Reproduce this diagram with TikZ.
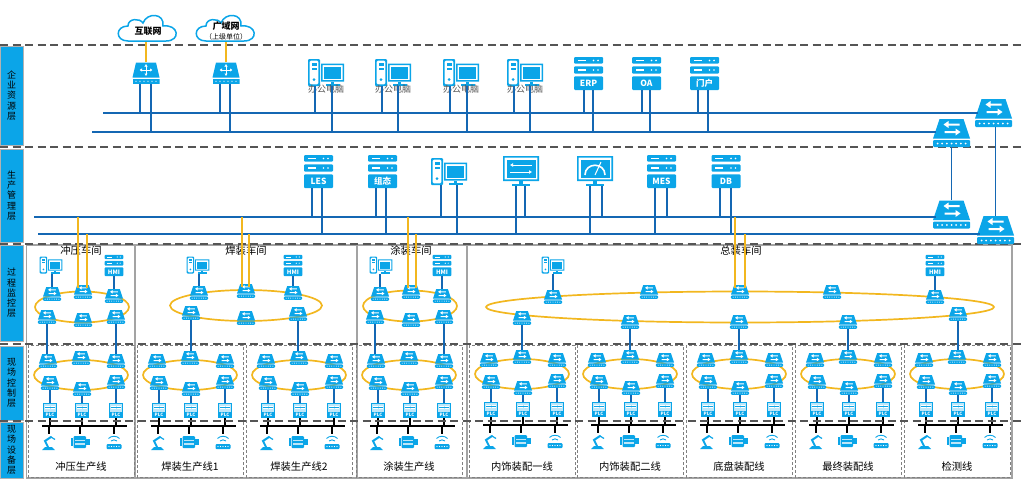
\documentclass[tikz,border=0pt]{standalone}
\usepackage{fontspec}
\setmainfont{Noto Sans CJK SC}
\usepackage{tikz}
\usetikzlibrary{arrows.meta,calc,positioning}
\definecolor{iconblue}{HTML}{0BA5E8}
\definecolor{iconlight}{HTML}{BDE6F8}
\definecolor{linkblue}{HTML}{1467B3}
\definecolor{ringyellow}{HTML}{F2B71F}
\definecolor{dashgray}{HTML}{555555}
\definecolor{panelgray}{HTML}{A3A3A3}
\newcommand{\fsz}[2]{\fontsize{#1}{#2}\selectfont}
\tikzset{
  swicon/.pic={
    \fill[iconblue] (-12,-14) -- (12,-14) -- (18.5,5.5) -- (-18.5,5.5) -- cycle;
    \fill[iconblue,rounded corners=1pt] (-18.5,7) rectangle (18.5,14);
    \fill[white] (-8,-8.5) -- (-3,-12) -- (-3,-9.5) -- (8,-9.5) -- (8,-7.5) -- (-3,-7.5) -- (-3,-5) -- cycle;
    \fill[white] (9,-1) -- (4,-4.5) -- (4,-2) -- (-7,-2) -- (-7,0) -- (4,0) -- (4,2.5) -- cycle;
    \foreach \d in {-14,-9.33,-4.67,0,4.67,9.33,14} \fill[white] (\d,10.5) circle (1);
  },
  rticon/.pic={
    \fill[iconblue] (-10,-10.5) -- (10,-10.5) -- (13.5,4.5) -- (-13.5,4.5) -- cycle;
    \fill[iconblue] (-13.5,6) rectangle (13.5,10.5);
    \draw[white,line width=1pt,{Latex[length=2.5pt,width=3.5pt]}-{Latex[length=2.5pt,width=3.5pt]}] (-6.5,-3) -- (6.5,-3);
    \draw[white,line width=1pt,{Latex[length=2.5pt,width=3.5pt]}-{Latex[length=2.5pt,width=3.5pt]}] (0,-9) -- (0,3);
    \foreach \d in {-10,-6,-2,2,6,10} \fill[white] (\d,8.2) circle (.6);
  },
  srvicon/.pic={
    \fill[iconblue,rounded corners=1pt] (-14.5,-16.5) rectangle (14.5,-9.8);
    \fill[iconblue,rounded corners=1pt] (-14.5,-7.2) rectangle (14.5,.2);
    \fill[iconblue,rounded corners=1pt] (-14.5,2.8) rectangle (14.5,16.5);
    \foreach \y in {-13.1,-3.5}{
      \fill[white] (-11,\y-.6) rectangle (-3,\y+.6);
      \fill[white] (5,\y) circle (.9);
      \fill[white] (9.5,\y) circle (.9);
    }
  },
  pcicon/.pic={
    \fill[iconblue,even odd rule,rounded corners=1pt] (-18,-13.5) rectangle (-6,13.5) (-16.3,-11.8) rectangle (-7.7,11.8);
    \fill[iconblue] (-14.5,-9.5) rectangle (-9.5,-7);
    \fill[iconblue] (-14.5,-5) rectangle (-9.5,-2.5);
    \fill[iconblue] (-12,7) circle (1.5);
    \fill[iconblue,even odd rule] (-5,-9) rectangle (18,9) (-3.5,-7.5) rectangle (16.5,7.5);
    \fill[iconblue] (-2,-5.5) rectangle (15,6);
    \fill[iconblue] (5,9) rectangle (8,12);
    \fill[iconblue] (-.5,11.8) rectangle (13.5,13.5);
  },
  scrframe/.pic={
    \fill[iconblue,even odd rule] (-18,-15) rectangle (18,10) (-16.3,-13.3) rectangle (16.3,8.3);
    \fill[iconblue] (-14.5,-11.5) rectangle (14.5,6.5);
    \fill[iconblue] (-2,10) rectangle (2,13);
    \fill[iconblue] (-9,13) rectangle (9,15);
  },
  cloudicon/.pic={
    \draw[iconblue,fill=white,line width=1.5pt] (-20,10) .. controls (-33,10) and (-33,-5) .. (-20,-5)
      .. controls (-20,-13) and (-8,-13) .. (-5,-8) .. controls (-1,-19) and (17,-18) .. (15,-5)
      .. controls (31,-7) and (33,10) .. (18,10) -- cycle;
  },
  robicon/.pic={
    \fill[iconblue] (-7,8) -- (6,8) -- (3,5) -- (-4,5) -- cycle;
    \draw[iconblue,line width=2pt,line cap=round] (-1,5) -- (-4,-1) -- (2,-5);
    \draw[iconblue,line width=1.2pt] (2,-5) -- (6,-2.5);
  },
  moticon/.pic={
    \fill[iconblue,rounded corners=1pt] (-6.5,-6) rectangle (6,6);
    \fill[iconblue] (-9.5,-4) rectangle (-7.5,4);
    \fill[iconblue] (6,-3) rectangle (9.5,3);
    \fill[iconlight] (-5,-2.5) rectangle (4.5,-1);
    \fill[iconlight] (-5,1) rectangle (4.5,2.5);
  },
  wficon/.pic={
    \fill[iconblue,rounded corners=1pt] (-7.5,2) rectangle (7.5,7);
    \foreach \d in {-5,-2.5,0,2.5,5} \fill[white] (\d,4.5) circle (.6);
    \draw[iconblue,line width=.9pt] (-3,-1) .. controls (-1.5,-2.5) and (1.5,-2.5) .. (3,-1);
    \draw[iconblue,line width=.9pt] (-5.5,-3.5) .. controls (-2.5,-6.5) and (2.5,-6.5) .. (5.5,-3.5);
  },
  plcicon/.pic={
    \fill[iconblue] (-7,-7.5) rectangle (7,7.5);
    \fill[iconlight] (-6,-6.5) rectangle (6,1.5);
    \fill[white] (-5,-5) rectangle (-.5,-2);
    \fill[white] (.5,-5) rectangle (5,-2);
    \fill[iconblue] (-5,-3.8) rectangle (5,-3.1);
  }
}
\begin{document}
\begin{tikzpicture}[x=1pt,y=-1pt,>=Latex,
  layerline/.style={draw=dashgray,line width=1.3pt,dash pattern=on 8pt off 4.5pt},
  panelbox/.style={draw=panelgray,line width=1.1pt},
  cellbox/.style={draw=gray,line width=.9pt,dash pattern=on 3pt off 2pt},
  bandbox/.style={draw=gray!60,line width=.4pt,fill=iconblue,minimum width=23pt,inner sep=0pt,align=center,font=\fsz{9}{10.2}},
  link/.style={draw=linkblue,line width=1.9pt},
  uplink/.style={draw=ringyellow,line width=2pt},
  ringline/.style={draw=ringyellow,line width=1.7pt},
  fieldbus/.style={draw=black,line width=2.1pt},
  cloudtext/.style={inner sep=0pt,minimum width=54pt,minimum height=21pt,align=center,font=\fsz{9}{11}\bfseries},
  swbig/.style={inner sep=0pt,minimum width=37pt,minimum height=28pt,path picture={\pic at (path picture bounding box.center) {swicon};}},
  swsmall/.style={inner sep=0pt,minimum width=18.2pt,minimum height=14pt,path picture={\pic[scale=.49] at (path picture bounding box.center) {swicon};}},
  rtnode/.style={inner sep=0pt,minimum width=27pt,minimum height=21pt,path picture={\pic at (path picture bounding box.center) {rticon};}},
  srvnode/.style={inner sep=0pt,minimum width=29pt,minimum height=33pt,text=white,font=\fsz{8.5}{10}\bfseries,text height=29.6pt,text depth=3.4pt,path picture={\pic at (path picture bounding box.center) {srvicon};}},
  hminode/.style={inner sep=0pt,minimum width=19pt,minimum height=21.5pt,text=white,font=\fsz{6}{7}\bfseries,text height=19.4pt,text depth=2.1pt,path picture={\pic[scale=.65] at (path picture bounding box.center) {srvicon};}},
  pcnode/.style={inner sep=0pt,minimum width=36pt,minimum height=27pt,path picture={\pic at (path picture bounding box.center) {pcicon};}},
  pcsmall/.style={inner sep=0pt,minimum width=23pt,minimum height=17pt,path picture={\pic[scale=.63] at (path picture bounding box.center) {pcicon};}},
  scrnode/.style={inner sep=0pt,minimum width=36pt,minimum height=30pt},
  plcnode/.style={inner sep=0pt,minimum width=14pt,minimum height=15pt,text=white,font=\fsz{4.5}{5}\bfseries,text height=13.5pt,text depth=1.5pt,path picture={\pic at (path picture bounding box.center) {plcicon};}},
  robnode/.style={inner sep=0pt,minimum width=16pt,minimum height=16pt,path picture={\pic at (path picture bounding box.center) {robicon};}},
  motnode/.style={inner sep=0pt,minimum width=20pt,minimum height=16pt,path picture={\pic at (path picture bounding box.center) {moticon};}},
  wfnode/.style={inner sep=0pt,minimum width=16pt,minimum height=16pt,path picture={\pic at (path picture bounding box.center) {wficon};}},
  pclabel/.style={inner sep=0pt,text=dashgray,font=\fsz{9}{10}},
  shoplabel/.style={inner sep=0pt,font=\fsz{10.3}{12}}]
\useasboundingbox (0,0) rectangle (1023,483);

% layer bands
\node[bandbox,minimum height=99pt] (banda) at (11.5,95.5) {企\\业\\资\\源\\层};
\node[bandbox,minimum height=93pt] (bandb) at (11.5,195.5) {生\\产\\管\\理\\层};
\node[bandbox,minimum height=96pt] (bandc) at (11.5,293) {过\\程\\监\\控\\层};
\node[bandbox,minimum height=74pt] (bandd) at (11.5,383) {现\\场\\控\\制\\层};
\node[bandbox,minimum height=56pt] (bande) at (11.5,450) {现\\场\\设\\备\\层};

% workshop panels
\foreach \l/\r in {26.5/135,135/357,357/467,467/1012}
  \draw[panelbox] (\l,245) rectangle (\r,478);
\node[shoplabel] (shopa) at (81,251) {冲压车间};
\node[shoplabel] (shopb) at (246,251) {焊装车间};
\node[shoplabel] (shopc) at (411,251) {涂装车间};
\node[shoplabel] (shopd) at (741,251) {总装车间};

% rings of the workshops
\draw[ringline] (82,307) ellipse (47 and 15.5);
\draw[ringline] (246,305.5) ellipse (76 and 15.5);
\draw[ringline] (410,306) ellipse (47 and 15.5);
\draw[ringline] (740,307) ellipse (254 and 15.5);

% one production line per box
\foreach \c/\d/\nm in {81/0/冲压生产线,190/0/焊装生产线1,299/0/焊装生产线2,409/0/涂装生产线,522/-1/内饰装配一线,630/-1/内饰装配二线,739/-1/底盘装配线,848/-1/最终装配线,957/-1/检测线}{
  \draw[cellbox] (\c-53,345) rectangle (\c+53,477);
  \draw[ringline] (\c,375+\d) ellipse (47 and 15);
  \coordinate (fb\c) at (\c-39,426+\d);
  \draw[fieldbus] (fb\c) -- (\c+46,426+\d);
  \node[shoplabel] (nm\c) at (\c,467) {\nm};
  \foreach \i/\tx/\ty/\bx/\by/\dx/\dv in {1/-33/361/-31/383/-32/robnode,2/0/358/1/389/-1/motnode,3/35/361/35/382/33/wfnode}{
    \node[swsmall] (ct\c-\i) at (\c+\tx,\ty+\d) {};
    \node[swsmall] (cb\c-\i) at (\c+\bx,\by+\d) {};
    \node[plcnode] (pl\c-\i) at (\c+\bx,410.5+\d) {PLC};
    \node[\dv] (dv\c-\i) at (\c+\dx,442+\d) {};
    \draw[link] (cb\c-\i.south) -- (pl\c-\i.north);
    \draw[fieldbus] (pl\c-\i.south) -- (pl\c-\i.south |- fb\c);
    \draw[fieldbus] (dv\c-\i.north) -- (dv\c-\i.north |- fb\c);
  }
}

% layer separators
\foreach \y in {45,147,244,344,421}
  \draw[layerline] (0,\y) -- (1023,\y);

% enterprise layer
\pic at (148,31) {cloudicon};
\pic at (226,31) {cloudicon};
\node[cloudtext] (inet) at (148,31) {互联网};
\node[cloudtext] (wan) at (226,31) {广域网\\[-1pt]{\fsz{7}{8}\mdseries （上级单位）}};
\node[rtnode] (rta) at (146,73) {};
\node[rtnode] (rtb) at (226,73) {};
\foreach \n/\x in {pca/326,pcb/393,pcc/461,pcd/525}{
  \node[pcnode] (\n) at (\x,72.5) {};
  \node[pclabel,below=-1pt of \n] (\n l) {办公电脑};
}
\node[srvnode] (erp) at (588.5,73.5) {ERP};
\node[srvnode] (oa) at (646.5,73.5) {OA};
\node[srvnode] (portal) at (704.5,73.5) {门户};
\node[swbig] (swa) at (993.5,113) {};
\node[swbig] (swb) at (951.5,133) {};
\coordinate (busa) at (103,113);
\coordinate (busb) at (92,132);
\draw[link] (busa) -- ([xshift=3pt]busa -| swa.west);
\draw[link] (busb) -- ([xshift=3pt]busb -| swb.west);
\foreach \n/\a/\b in {rta/-6/5,rtb/-6/4,pca/-11/6,pcb/-11/5,pcc/-11/6,pcd/-11/5,erp/-4.5/4.5,oa/-4.5/3.5,portal/-6.5/3.5}{
  \draw[link] ([xshift=\a pt]\n.south) -- ([xshift=\a pt]\n.south |- busa);
  \draw[link] ([xshift=\b pt]\n.south) -- ([xshift=\b pt]\n.south |- busb);
}
\draw[uplink] (rta.north |- inet.south) -- (rta.north);
\draw[uplink] (rtb.north |- wan.south) -- (rtb.north);

% production management layer
\node[srvnode] (les) at (318.5,171.5) {LES};
\node[srvnode] (scada) at (382.5,171.5) {组态};
\node[pcnode] (pce) at (449,171.5) {};
\node[scrnode] (scra) at (521,171) {};
\pic at (scra) {scrframe};
\draw[white,line width=1pt,{Latex[length=3pt,width=4pt]}-] ([xshift=-11pt,yshift=6pt]scra.center) -- ([xshift=11pt,yshift=6pt]scra.center);
\draw[white,line width=1pt,-{Latex[length=3pt,width=4pt]}] ([xshift=-11pt,yshift=-1pt]scra.center) -- ([xshift=11pt,yshift=-1pt]scra.center);
\node[scrnode] (scrb) at (595,171) {};
\pic at (scrb) {scrframe};
\draw[white,line width=1.6pt] ($(scrb.center)+(-10,4)$) .. controls ($(scrb.center)+(-10,-9)$) and ($(scrb.center)+(10,-9)$) .. ($(scrb.center)+(10,4)$);
\draw[white,line width=1pt] ($(scrb.center)+(0,4)$) -- ($(scrb.center)+(6,-9)$);
\node[srvnode] (mes) at (661.5,171.5) {MES};
\node[srvnode] (db) at (726,171.5) {DB};
\node[swbig] (swc) at (951.5,214.5) {};
\node[swbig] (swd) at (995.5,230) {};
\coordinate (busc) at (34,217);
\coordinate (busd) at (38,234);
\draw[link] (busc) -- ([xshift=3pt]busc -| swc.west);
\draw[link] (busd) -- ([xshift=3pt]busd -| swd.west);
\foreach \n/\a/\b in {les/-6.5/3.5,scada/-6.5/3.5,pce/-8/8,scra/4/-5,scrb/7/-5,mes/5.5/-6.5,db/-6/5}{
  \draw[link] ([xshift=\a pt]\n.south) -- ([xshift=\a pt]\n.south |- busc);
  \draw[link] ([xshift=\b pt]\n.south) -- ([xshift=\b pt]\n.south |- busd);
}
\draw[link] (swb.south) -- (swc.north);
\draw[link] (swd.north) -- (swd.north |- swa.south);

% process monitoring layer
\foreach \n/\x/\y in {paa/52/294,pab/83/292,pac/114/296,pad/47/317,pae/83/320,paf/116/317,
  pba/199/293,pbb/246/291,pbc/293/293,pbd/191/313,pbe/246/318,pbf/298/314,
  pta/380/294,ptb/411/292,ptc/442/296,ptd/375/317,pte/411/320,ptf/444/317,
  pfa/553/297,pfb/649/292,pfc/740/292,pfd/832/292,pfe/935/297,
  pff/522/318,pfg/630/322,pfh/739/322,pfi/848/322,pfj/958/314}
  \node[swsmall] (\n) at (\x,\y) {};
\foreach \p/\h/\sa/\sb/\x/\z in {spca/hmia/paa/pac/51/114,spcb/hmib/pba/pbc/198/293,spcc/hmic/pta/ptc/381/442,spcd/hmid/pfa/pfe/553/935}{
  \node[pcsmall] (\p) at (\x,265) {};
  \node[hminode] (\h) at (\z,265.5) {HMI};
  \draw[link] (\sa.north |- \p.south) -- (\sa.north);
  \draw[link] (\h.south) -- (\h.south |- \sb.north);
}
% links down to the line rings
\foreach \a/\b in {pad/ct81-1,paf/ct81-3,pbd/ct190-2,pbf/ct299-2,ptd/ct409-1,ptf/ct409-3,
  pff/ct522-2,pfg/ct630-2,pfh/ct739-2,pfi/ct848-2,pfj/ct957-2}
  \draw[link] (\a.south) -- (\a.south |- \b.north);
% uplinks to the buses
\foreach \s/\a/\b in {pab/-5/4,pbb/-4/3,ptb/-3/5,pfc/-5/5}{
  \draw[uplink] ([xshift=\a pt,yshift=-3pt]\s.north) -- ([xshift=\a pt]\s.north |- busc);
  \draw[uplink] ([xshift=\b pt,yshift=-3pt]\s.north) -- ([xshift=\b pt]\s.north |- busd);
}
\end{tikzpicture}
\end{document}
